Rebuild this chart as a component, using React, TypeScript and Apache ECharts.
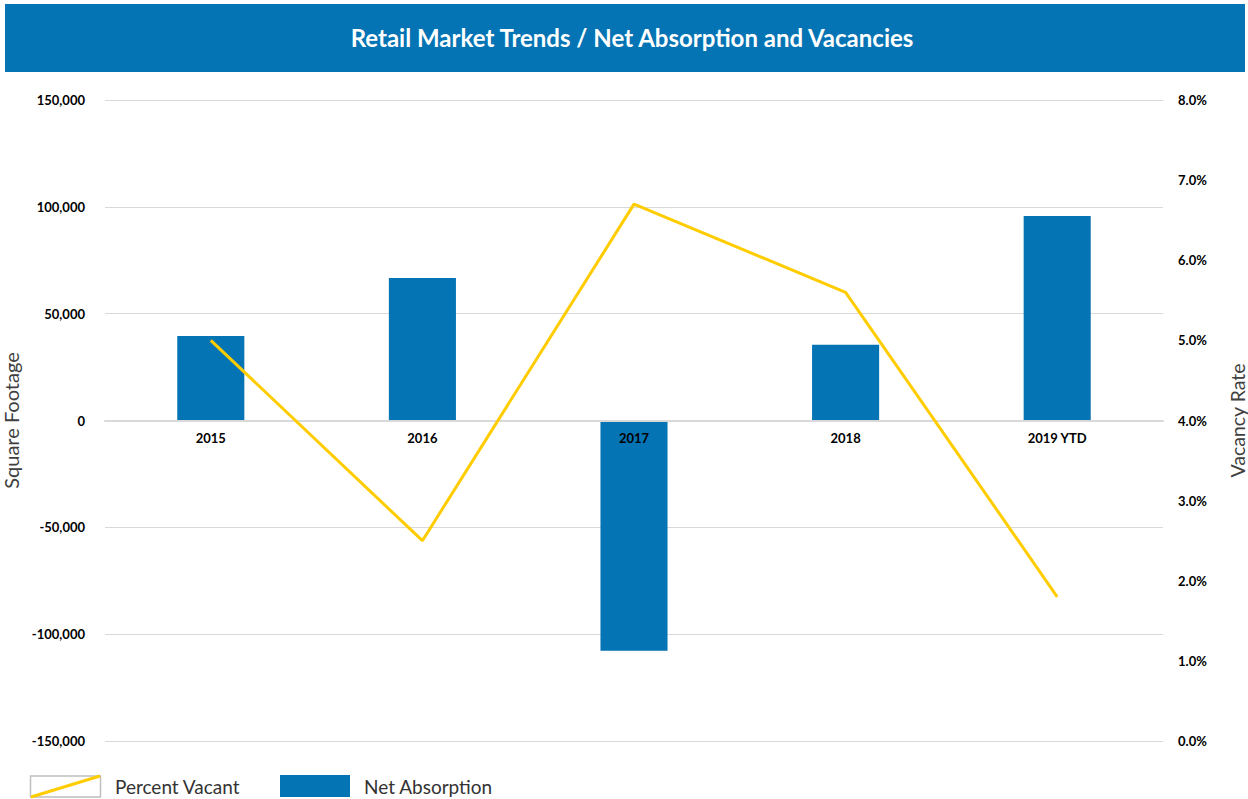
import React, { useEffect, useRef } from "react";
import * as echarts from "echarts";

const categories = ["2015", "2016", "2017", "2018", "2019 YTD"];
const netAbsorption = [39500, 66700, -107800, 35400, 95700];
const percentVacant = [5.0, 2.5, 6.7, 5.6, 1.8];
const leftTicks = { min: -150000, max: 150000, interval: 50000 };
const rightTicks = { min: 0, max: 8, interval: 1 };

const BLUE = "#0474B4";
const GOLD = "#FFCC00";
const FONT = "Lato, 'Liberation Sans', sans-serif";

export default function App() {
  const ref = useRef<HTMLDivElement>(null);
  useEffect(() => {
    document.body.style.margin = "0";
    if (!ref.current) return;
    const chart = echarts.init(ref.current, undefined, { renderer: "svg" });
    chart.setOption({
      animation: false,
      backgroundColor: "#ffffff",
      textStyle: { fontFamily: FONT },
      grid: {
        left: 105,
        right: 85,
        top: 100,
        bottom: 58,
        containLabel: false,
        outerBoundsMode: "none",
      },
      xAxis: {
        type: "category",
        data: categories,
        position: "bottom",
        offset: -320.5,
        axisLine: {
          show: true,
          onZero: false,
          lineStyle: { color: "#d9d9d9", width: 2 },
        },
        axisTick: { show: false },
        axisLabel: {
          color: "#000000",
          fontWeight: "bold",
          fontSize: 13,
          fontFamily: FONT,
          margin: 11,
        },
        z: 5,
      },
      yAxis: [
        {
          type: "value",
          min: leftTicks.min,
          max: leftTicks.max,
          interval: leftTicks.interval,
          name: "Square Footage",
          nameLocation: "middle",
          nameRotate: 90,
          nameGap: 78,
          nameTextStyle: { fontSize: 20, color: "#404040", fontFamily: FONT },
          axisLine: { show: false },
          axisTick: { show: false },
          splitLine: { show: true, lineStyle: { color: "#d9d9d9", width: 1 } },
          axisLabel: {
            color: "#000000",
            fontWeight: "bold",
            fontSize: 13,
            fontFamily: FONT,
            margin: 20,
            padding: [0, 0, 4, 0],
            formatter: (v: number) => v.toLocaleString("en-US"),
          },
        },
        {
          type: "value",
          min: rightTicks.min,
          max: rightTicks.max,
          interval: rightTicks.interval,
          position: "right",
          name: "Vacancy Rate",
          nameLocation: "middle",
          nameRotate: 90,
          nameGap: 64,
          nameTextStyle: { fontSize: 19.5, color: "#404040", fontFamily: FONT },
          axisLine: { show: false },
          axisTick: { show: false },
          splitLine: { show: false },
          axisLabel: {
            color: "#000000",
            fontWeight: "bold",
            fontSize: 13,
            fontFamily: FONT,
            margin: 15,
            padding: [0, 0, 4, 0],
            formatter: (v: number) => v.toFixed(1) + "%",
          },
        },
      ],
      series: [
        {
          name: "Net Absorption",
          type: "bar",
          data: netAbsorption,
          barWidth: "31.7%",
          itemStyle: { color: BLUE },
          yAxisIndex: 0,
        },
        {
          name: "Percent Vacant",
          type: "line",
          data: percentVacant,
          yAxisIndex: 1,
          symbol: "none",
          lineStyle: { color: GOLD, width: 3 },
          z: 10,
        },
      ],
      graphic: [
        {
          type: "rect",
          shape: { x: 5, y: 4, width: 1240, height: 68 },
          style: { fill: BLUE },
        },
        {
          type: "text",
          x: 632,
          y: 37,
          style: {
            text: "Retail Market Trends / Net Absorption and Vacancies",
            fill: "#ffffff",
            font: `bold 24px ${FONT}`,
            align: "center",
            verticalAlign: "middle",
          },
        },
        {
          type: "rect",
          shape: { x: 30.5, y: 776, width: 70, height: 21 },
          style: { fill: "none", stroke: "#bfbfbf", lineWidth: 1.5 },
        },
        {
          type: "line",
          shape: { x1: 31, y1: 797, x2: 100, y2: 776 },
          style: { stroke: GOLD, lineWidth: 3 },
        },
        {
          type: "text",
          x: 115,
          y: 786,
          style: {
            text: "Percent Vacant",
            fill: "#333333",
            font: `19px ${FONT}`,
            align: "left",
            verticalAlign: "middle",
          },
        },
        {
          type: "rect",
          shape: { x: 280, y: 775, width: 70, height: 22 },
          style: { fill: BLUE },
        },
        {
          type: "text",
          x: 364,
          y: 786,
          style: {
            text: "Net Absorption",
            fill: "#333333",
            font: `19px ${FONT}`,
            align: "left",
            verticalAlign: "middle",
          },
        },
      ],
    });
    return () => chart.dispose();
  }, []);
  return <div ref={ref} style={{ width: 1248, height: 799 }} />;
}
